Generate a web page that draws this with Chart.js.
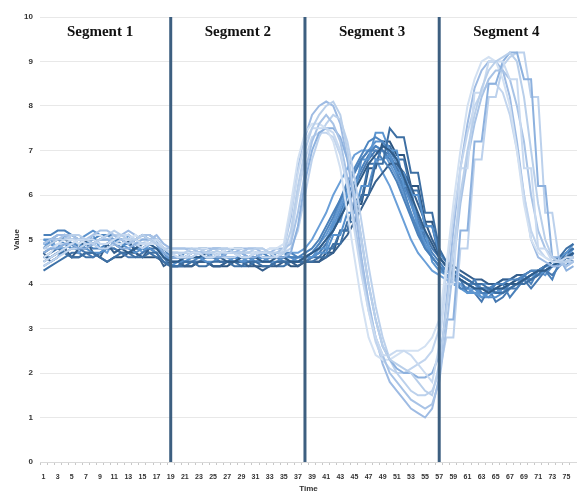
<!DOCTYPE html>
<html>
<head>
<meta charset="utf-8">
<script src="https://cdn.jsdelivr.net/npm/chart.js@4.4.0/dist/chart.umd.min.js"></script>
<style>
  html, body { margin: 0; padding: 0; background: #fff; }
</style>
</head>
<body>
<canvas id="segmentChart" width="577" height="491"></canvas>
<script>
// Time points 1..76, a label is shown on every other one
const timeLabels = Array.from({ length: 76 }, (_, i) => String(i + 1));
const yTicks = [0, 1, 2, 3, 4, 5, 6, 7, 8, 9, 10];

// Segment boundaries (time point) and where each title sits
const segmentBreaks = [19, 38, 57];
const segmentNames = ['Segment 1', 'Segment 2', 'Segment 3', 'Segment 4'];
const segmentTitleAt = [9, 28.5, 47.5, 66.5];

// Main group: peak in segment 3, dip in segment 4
const n01 = [
  4.8,4.9,5.0,5.0,4.9,4.8,4.8,4.9,5.0,5.0,4.9,4.8,4.7,4.8,4.9,4.9,4.8,4.6,4.5,
  4.5,4.6,4.6,4.6,4.7,4.6,4.6,4.5,4.5,4.6,4.6,4.6,4.5,4.5,4.6,4.6,4.5,4.5,4.6,
  4.7,4.8,5.0,5.2,5.5,5.8,6.1,6.4,6.7,6.9,7.1,7.0,6.8,6.4,6.0,5.6,5.2,4.9,4.6,
  4.4,4.2,4.1,4.0,3.9,3.9,3.8,3.9,3.9,4.0,4.0,4.1,4.2,4.3,4.3,4.4,4.5,4.6,4.7];
const n02 = [
  4.5,4.6,4.7,4.7,4.6,4.6,4.7,4.7,4.6,4.5,4.6,4.7,4.7,4.6,4.6,4.7,4.7,4.5,4.4,
  4.4,4.5,4.5,4.4,4.4,4.5,4.5,4.5,4.4,4.4,4.5,4.5,4.4,4.4,4.5,4.5,4.5,4.5,4.5,
  4.5,4.6,4.6,4.9,4.9,5.4,5.4,6.0,6.0,6.7,6.7,7.5,7.3,7.3,6.5,6.5,5.6,5.6,4.8,
  4.5,4.3,4.2,4.1,4.0,4.0,3.9,3.8,3.8,3.9,4.0,4.0,4.1,4.2,4.4,4.5,4.6,4.8,4.9];
const n03 = [
  5.1,5.1,5.2,5.2,5.1,5.0,4.9,4.9,5.0,5.1,5.1,5.0,4.9,5.0,5.1,5.0,4.9,4.7,4.6,
  4.6,4.7,4.7,4.8,4.8,4.7,4.7,4.7,4.8,4.8,4.7,4.7,4.6,4.6,4.7,4.7,4.6,4.6,4.7,
  4.8,5.0,5.3,5.6,5.9,6.2,6.5,6.8,7.0,7.0,6.8,6.6,6.3,5.9,5.5,5.1,4.8,4.6,4.4,
  4.2,4.2,3.9,3.9,4.1,3.8,3.8,4.0,4.0,3.7,3.9,4.2,4.0,4.3,4.3,4.1,4.5,4.4,4.7];
const n04 = [
  4.4,4.5,4.6,4.8,4.9,4.9,4.8,4.7,4.7,4.8,4.9,4.9,4.8,4.7,4.8,4.8,4.7,4.5,4.4,
  4.5,4.5,4.6,4.6,4.5,4.5,4.6,4.6,4.6,4.5,4.5,4.6,4.6,4.5,4.5,4.6,4.6,4.5,4.6,
  4.6,4.7,4.7,5.1,5.1,5.6,5.6,6.2,6.2,6.8,6.8,6.9,6.5,6.5,6.0,6.0,5.3,5.3,4.7,
  4.5,4.3,4.1,4.0,3.9,3.8,3.7,3.7,3.8,3.9,4.0,4.0,4.1,4.2,4.3,4.4,4.5,4.6,4.7];
const n05 = [
  4.9,5.0,5.0,4.9,4.8,4.8,4.9,5.0,5.1,5.1,5.0,4.9,4.9,5.0,5.1,5.1,5.0,4.8,4.6,
  4.6,4.6,4.7,4.7,4.6,4.6,4.6,4.7,4.7,4.6,4.6,4.5,4.5,4.6,4.6,4.7,4.7,4.6,4.6,
  4.7,4.9,5.2,5.5,5.9,6.3,6.6,6.9,7.2,7.3,7.2,6.9,6.5,6.1,5.6,5.2,4.8,4.6,4.4,
  4.3,4.2,4.1,4.0,4.0,3.9,3.9,4.0,4.0,4.1,4.1,4.2,4.3,4.3,4.4,4.5,4.5,4.6,4.7];
const n06 = [
  4.7,4.5,4.6,4.8,4.6,4.8,5.0,4.7,4.6,4.9,4.7,4.8,5.0,4.7,4.6,4.8,4.7,4.4,4.5,
  4.5,4.4,4.4,4.5,4.5,4.4,4.4,4.5,4.5,4.5,4.4,4.4,4.3,4.4,4.4,4.5,4.5,4.4,4.5,
  4.5,4.5,4.6,4.7,4.9,5.1,5.4,5.7,6.0,6.3,6.5,6.7,6.7,6.5,6.2,5.8,5.4,5.0,4.7,
  4.5,4.4,4.3,4.2,4.1,4.1,4.0,4.0,4.1,4.1,4.2,4.2,4.3,4.3,4.4,4.5,4.5,4.6,4.6];
const n07 = [
  5.0,4.9,4.8,4.8,4.9,5.0,5.0,4.9,4.8,4.8,4.9,5.0,5.0,4.9,4.8,4.9,5.0,4.8,4.7,
  4.7,4.6,4.6,4.6,4.7,4.7,4.6,4.6,4.5,4.5,4.6,4.6,4.7,4.7,4.6,4.6,4.6,4.6,4.6,
  4.6,4.8,4.8,5.4,5.4,6.0,6.0,6.8,6.8,7.4,7.4,7.0,7.0,6.2,6.2,5.2,5.2,4.5,4.3,
  4.2,4.0,3.9,3.8,3.8,3.7,3.8,3.8,3.9,4.0,4.0,4.1,4.2,4.2,4.3,4.4,4.6,4.7,4.9];
const n08 = [
  4.6,4.7,4.8,4.9,4.9,4.8,4.7,4.6,4.7,4.8,4.8,4.7,4.6,4.6,4.7,4.8,4.8,4.6,4.4,
  4.4,4.5,4.5,4.5,4.6,4.6,4.5,4.5,4.5,4.6,4.6,4.5,4.5,4.6,4.6,4.5,4.5,4.5,4.5,
  4.6,4.7,4.9,5.2,5.5,5.8,6.2,6.5,6.8,7.0,7.0,6.9,6.6,6.3,5.9,5.5,5.1,4.8,4.6,
  4.4,4.1,4.1,3.8,3.8,3.6,3.9,3.6,3.7,3.9,3.9,4.1,3.9,4.1,4.3,4.2,4.4,4.6,4.5];
const n09 = [
  4.8,5.0,4.8,5.1,4.9,4.7,4.9,5.1,4.8,4.7,5.0,4.8,5.1,4.9,4.7,4.9,4.8,4.6,4.6,
  4.6,4.6,4.7,4.7,4.6,4.6,4.7,4.7,4.7,4.6,4.6,4.6,4.7,4.7,4.6,4.6,4.7,4.7,4.8,
  5.0,5.3,5.6,6.0,6.3,6.6,6.9,7.0,7.0,6.8,6.5,6.2,5.8,5.4,5.0,4.7,4.5,4.3,4.2,
  4.1,4.0,4.0,3.9,3.9,4.0,4.0,4.0,4.1,4.1,4.2,4.2,4.3,4.3,4.4,4.4,4.5,4.5,4.6];
const n10 = [
  4.3,4.4,4.5,4.6,4.7,4.7,4.6,4.6,4.7,4.8,4.8,4.7,4.7,4.8,4.8,4.7,4.6,4.5,4.4,
  4.4,4.4,4.5,4.5,4.5,4.4,4.4,4.5,4.5,4.4,4.4,4.5,4.5,4.5,4.4,4.4,4.5,4.5,4.5,
  4.6,4.6,4.8,4.8,5.2,5.2,5.9,5.9,6.7,6.7,7.1,7.1,6.8,6.8,6.1,6.1,5.3,5.3,4.6,
  4.4,4.2,4.1,4.0,3.9,3.9,3.8,3.8,3.9,3.9,4.0,4.1,4.1,4.2,4.3,4.4,4.5,4.7,4.8];
const n11 = [
  5.0,5.0,5.1,5.1,5.0,5.0,5.1,5.2,5.1,5.0,5.0,5.1,5.1,5.0,4.9,5.0,5.0,4.7,4.5,
  4.5,4.6,4.6,4.7,4.7,4.8,4.8,4.7,4.7,4.7,4.6,4.6,4.7,4.7,4.6,4.5,4.5,4.6,4.6,
  4.7,4.8,5.0,5.3,5.7,6.1,6.5,6.8,7.0,7.2,7.2,7.0,6.7,6.3,5.8,5.3,4.9,4.6,4.4,
  4.2,4.0,4.0,3.8,3.9,3.7,3.7,3.9,3.8,4.0,4.0,4.2,4.1,4.3,4.2,4.4,4.4,4.6,4.8];
const n12 = [
  4.6,4.6,4.7,4.7,4.8,4.9,4.9,4.8,4.8,4.9,5.0,5.0,4.9,4.8,4.8,4.9,4.9,4.7,4.6,
  4.6,4.5,4.5,4.6,4.6,4.6,4.5,4.5,4.6,4.6,4.6,4.7,4.7,4.6,4.6,4.5,4.5,4.5,4.6,
  4.6,4.7,4.9,5.2,5.6,6.0,6.3,6.6,6.9,7.1,7.0,6.8,6.5,6.2,5.8,5.4,5.0,4.7,4.5,
  4.3,4.2,4.1,4.0,3.9,3.9,3.9,3.8,3.9,4.0,4.0,4.1,4.2,4.3,4.3,4.4,4.5,4.6,4.8];
const n13 = [
  4.7,4.8,4.8,4.7,4.6,4.6,4.7,4.7,4.6,4.5,4.6,4.6,4.7,4.7,4.6,4.6,4.6,4.5,4.4,
  4.4,4.4,4.4,4.5,4.5,4.4,4.4,4.4,4.5,4.5,4.5,4.4,4.4,4.4,4.5,4.5,4.4,4.4,4.5,
  4.5,4.5,4.7,4.7,5.2,5.2,5.8,5.8,6.6,6.6,7.2,7.2,6.9,6.9,6.2,6.2,5.4,5.4,4.6,
  4.4,4.3,4.2,4.1,4.0,3.9,3.9,3.9,4.0,4.0,4.1,4.1,4.2,4.3,4.4,4.5,4.6,4.7,4.8];
const n14 = [
  4.9,4.9,4.8,4.8,4.9,4.9,5.0,5.0,4.9,4.9,5.0,5.0,4.9,4.8,4.8,4.9,4.9,4.6,4.5,
  4.5,4.5,4.6,4.6,4.6,4.7,4.7,4.6,4.6,4.6,4.5,4.5,4.6,4.6,4.6,4.6,4.5,4.5,4.6,
  4.7,4.9,5.1,5.4,5.8,6.2,6.5,6.8,7.0,7.1,7.0,6.7,6.4,6.0,5.6,5.2,4.9,4.6,4.4,
  4.2,4.1,4.0,3.9,3.8,3.8,3.8,3.9,3.9,4.0,4.1,4.1,4.2,4.3,4.4,4.4,4.5,4.6,4.7];

// Shifted group: early peak, deep trough, high peak in segment 4
const s01 = [
  4.8,4.9,5.0,5.0,5.1,5.1,5.0,4.9,5.0,5.1,5.2,5.1,5.0,5.0,5.1,5.0,4.9,4.8,4.7,
  4.7,4.7,4.8,4.8,4.7,4.7,4.8,4.8,4.7,4.7,4.7,4.8,4.8,4.7,4.7,4.7,5.2,6.2,7.0,
  7.5,7.8,8.0,8.1,7.8,7.0,6.0,5.0,4.0,3.2,2.6,2.3,2.2,2.1,2.0,1.8,1.6,1.5,2.2,
  3.4,4.8,6.0,7.0,7.8,8.4,8.8,9.0,9.1,9.2,9.0,8.2,7.0,5.8,5.0,4.6,4.5,4.5,4.6];
const s02 = [
  4.5,4.6,4.7,4.8,4.9,5.0,5.0,5.0,4.9,4.9,5.0,5.1,5.1,5.0,4.9,4.9,5.0,4.8,4.7,
  4.6,4.6,4.7,4.7,4.6,4.6,4.7,4.7,4.7,4.6,4.6,4.7,4.7,4.7,4.6,4.8,5.6,6.5,7.2,
  7.5,7.5,7.5,7.4,7.0,6.2,5.2,4.2,3.4,2.8,2.4,2.4,2.5,2.5,2.4,2.2,2.0,1.8,2.6,
  4.0,4.0,6.6,6.6,8.3,8.3,9.0,9.0,9.0,8.6,8.6,6.6,6.6,4.8,4.8,4.5,4.5,4.6,4.6];
const s03 = [
  4.9,5.0,5.0,5.1,5.1,5.0,5.0,5.1,5.2,5.2,5.1,5.0,4.9,5.0,5.1,5.1,5.0,4.8,4.8,
  4.8,4.8,4.8,4.7,4.7,4.8,4.8,4.8,4.7,4.7,4.8,4.8,4.8,4.7,4.7,4.8,4.9,5.6,6.5,
  7.2,7.6,7.8,7.6,7.2,6.4,5.4,4.4,3.5,2.8,2.4,2.0,1.8,1.6,1.4,1.3,1.2,1.3,1.8,
  3.0,4.4,5.8,6.8,7.6,8.2,8.6,8.8,8.8,8.6,8.0,7.2,6.0,5.2,4.8,4.6,4.5,4.4,4.5];
const s04 = [
  4.7,4.8,4.8,4.9,4.9,4.8,4.8,4.9,5.0,5.0,4.9,4.8,4.8,4.9,5.0,5.0,4.9,4.7,4.6,
  4.6,4.6,4.7,4.7,4.7,4.6,4.6,4.7,4.7,4.7,4.6,4.6,4.7,4.7,4.6,4.6,4.7,5.3,6.3,
  7.0,7.4,7.5,7.5,7.3,6.8,6.0,5.0,4.0,3.2,2.6,2.3,2.1,2.0,2.0,1.9,1.9,2.0,2.4,
  3.2,3.2,5.2,5.2,7.2,7.2,8.5,8.5,9.0,9.2,9.2,8.6,8.6,6.2,6.2,4.6,4.6,4.3,4.4];
const s05 = [
  4.6,4.7,4.9,5.0,5.0,4.9,5.0,5.1,5.1,5.0,4.9,4.9,5.0,5.1,5.0,4.9,4.9,4.8,4.7,
  4.7,4.7,4.7,4.8,4.8,4.7,4.7,4.8,4.8,4.8,4.7,4.7,4.7,4.8,4.8,4.9,5.8,6.8,7.4,
  7.6,7.6,7.5,7.2,6.6,5.6,4.6,3.6,2.8,2.4,2.3,2.3,2.4,2.5,2.5,2.5,2.6,2.8,3.2,
  4.4,5.8,7.0,8.0,8.6,9.0,9.1,9.0,8.6,8.0,7.0,5.8,5.0,4.7,4.6,4.5,4.5,4.5,4.6];
const s06 = [
  4.8,4.8,4.9,4.9,5.0,5.0,4.9,4.9,5.0,5.0,5.1,5.1,5.0,4.9,4.9,5.0,5.0,4.8,4.7,
  4.7,4.6,4.6,4.7,4.7,4.8,4.8,4.7,4.7,4.6,4.6,4.7,4.7,4.8,4.8,4.7,4.8,5.2,6.0,
  6.8,7.3,7.6,7.8,7.7,7.2,6.4,5.4,4.4,3.5,2.8,2.3,2.0,1.8,1.6,1.5,1.5,1.6,2.0,
  2.8,2.8,4.8,4.8,6.8,6.8,8.2,8.2,8.9,9.1,9.2,9.2,8.2,8.2,5.6,5.6,4.5,4.4,4.5];
const s07 = [
  4.4,4.5,4.6,4.7,4.8,4.8,4.9,4.9,4.8,4.8,4.9,5.0,5.0,4.9,4.8,4.9,4.9,4.8,4.7,
  4.6,4.6,4.6,4.7,4.7,4.7,4.6,4.6,4.6,4.7,4.7,4.7,4.6,4.6,4.6,4.7,5.0,6.0,6.8,
  7.3,7.4,7.4,7.3,6.9,6.2,5.3,4.3,3.4,2.7,2.3,2.1,2.0,2.0,2.1,2.2,2.3,2.5,3.0,
  4.2,5.5,6.6,7.4,8.0,8.3,8.5,8.5,8.3,7.8,7.0,6.0,5.2,4.8,4.6,4.5,4.5,4.5,4.5];
const s08 = [
  4.9,5.0,5.1,5.1,5.0,5.0,5.0,5.1,5.1,5.0,5.0,5.1,5.2,5.1,5.0,5.0,5.1,4.9,4.8,
  4.8,4.8,4.7,4.7,4.8,4.8,4.8,4.7,4.7,4.8,4.8,4.8,4.7,4.7,4.8,4.8,5.5,6.6,7.3,
  7.8,8.0,8.1,8.0,7.6,6.8,5.8,4.6,3.6,2.8,2.2,1.8,1.6,1.4,1.2,1.1,1.0,1.2,1.9,
  3.6,5.2,6.6,7.6,8.4,8.8,9.0,9.0,8.8,8.2,7.2,6.0,5.0,4.6,4.5,4.4,4.4,4.5,4.5];

const mainSeries = [n01, n02, n03, n04, n05, n06, n07, n08, n09, n10, n11, n12, n13, n14];
const shiftedSeries = [s01, s02, s03, s04, s05, s06, s07, s08];

const mainColors = ['#2F5B88', '#3D6FA3', '#4A80BA', '#5690CC', '#4F86C0', '#365F8C', '#5B95D0',
                    '#4678B0', '#6A9FD8', '#3E72A8', '#5C93CE', '#4B82BD', '#2C5580', '#6499D2'];
const shiftedColors = ['#B9CFEA', '#C9DAF0', '#A8C3E6', '#8DB1DE', '#D3E1F2', '#BCD1EC', '#C2D5EE', '#9EBBE3'];

const datasets = [];
shiftedSeries.forEach((values, i) => {
  datasets.push({ label: 'S' + (i + 1), data: values, borderColor: shiftedColors[i] });
});
mainSeries.forEach((values, i) => {
  datasets.push({ label: 'N' + (i + 1), data: values, borderColor: mainColors[i] });
});

// Vertical segment dividers and the segment titles
const segmentPlugin = {
  id: 'segments',
  afterDatasetsDraw(chart) {
    const { ctx, chartArea, scales: { x } } = chart;
    ctx.save();
    ctx.strokeStyle = '#3D5F80';
    ctx.lineWidth = 3;
    segmentBreaks.forEach(t => {
      const px = x.getPixelForValue(t - 1);
      ctx.beginPath();
      ctx.moveTo(px, chartArea.top);
      ctx.lineTo(px, chartArea.bottom);
      ctx.stroke();
    });
    ctx.font = 'bold 15px "Liberation Serif", "Times New Roman", serif';
    ctx.fillStyle = '#111';
    ctx.textAlign = 'center';
    ctx.textBaseline = 'middle';
    segmentNames.forEach((name, i) => {
      ctx.fillText(name, x.getPixelForValue(segmentTitleAt[i] - 1), chartArea.top + 15);
    });
    ctx.restore();
  }
};

const ctx = document.getElementById('segmentChart').getContext('2d');
new Chart(ctx, {
  type: 'line',
  data: { labels: timeLabels, datasets: datasets },
  options: {
    responsive: false,
    animation: false,
    layout: { padding: { top: 17, left: 0, right: 0, bottom: 0 } },
    elements: {
      line: { borderWidth: 2, tension: 0, fill: false },
      point: { radius: 0, hoverRadius: 0 }
    },
    plugins: { legend: { display: false }, tooltip: { enabled: false } },
    scales: {
      x: {
        offset: true,
        afterFit(scale) {
          scale.height = 29;
          scale.paddingLeft = 0;
          scale.paddingRight = 0;
        },
        grid: { drawOnChartArea: false, drawTicks: true, tickLength: 3, color: '#C8C8C8', offset: true },
        border: { display: true, color: '#D9D9D9' },
        ticks: {
          autoSkip: false, maxRotation: 0, minRotation: 0, padding: 8,
          color: '#333', font: { family: '"Liberation Sans Narrow", "Liberation Sans", sans-serif', size: 7, weight: 'bold' },
          callback: (val, idx) => (idx % 2 === 0 ? timeLabels[idx] : '')
        },
        title: {
          display: true, text: 'Time', color: '#333', padding: { top: 0, bottom: -3 },
          font: { family: '"Liberation Sans", sans-serif', size: 8, weight: 'bold' }
        }
      },
      y: {
        min: 0, max: 10,
        afterFit(scale) { scale.width = 40; },
        afterBuildTicks(scale) { scale.ticks = yTicks.map(v => ({ value: v })); },
        grid: { drawTicks: false, color: '#E8E8E8' },
        border: { display: false },
        ticks: {
          padding: 7, color: '#333',
          font: { family: '"Liberation Sans Narrow", "Liberation Sans", sans-serif', size: 8, weight: 'bold' }
        },
        title: {
          display: true, text: 'Value', color: '#333', padding: { top: 12, bottom: 0 },
          font: { family: '"Liberation Sans", sans-serif', size: 8, weight: 'bold' }
        }
      }
    }
  },
  plugins: [segmentPlugin]
});
</script>
</body>
</html>
